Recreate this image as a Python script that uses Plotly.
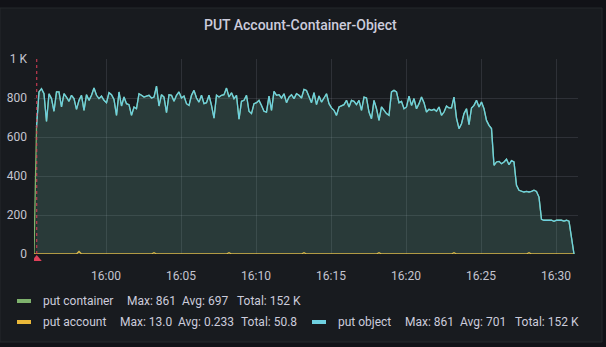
import pandas as pd
import plotly.graph_objects as go

# ---- data -------------------------------------------------------------
# requests/s sampled every 10 s
put_object = [
    651, 831, 848, 822, 680, 822, 797, 732, 831, 831, 754, 822, 805, 783, 814, 797,
    742, 788, 814, 737, 817, 788, 814, 851, 814, 797, 810, 788, 776, 827, 817, 793,
    711, 831, 759, 805, 771, 766, 711, 754, 745, 822, 814, 805,
    810, 814, 800, 805, 861, 759, 817, 805, 725, 817, 814, 783, 814, 831, 800, 810,
    771, 762, 814, 839, 800, 779, 814, 771, 776, 814, 762, 697, 814, 805, 814, 817,
    851, 805, 827, 797, 814, 691, 783, 788, 814, 732, 720, 771,
    776, 788, 762, 732, 728, 810, 737, 834, 814, 817, 800, 822, 776, 805, 817, 797,
    822, 814, 800, 844, 839, 805, 776, 827, 766, 810, 779, 800, 822, 771, 749, 737,
    711, 754, 762, 766, 788, 754, 788, 783, 766, 788, 737, 805,
    800, 728, 694, 788, 745, 685, 754, 737, 720, 711, 831, 839, 831, 776, 783, 745,
    754, 810, 762, 797, 745, 771, 805, 776, 728, 742, 737, 742, 732, 754, 711, 728,
    759, 749, 749, 805, 697, 643, 668, 720, 745, 663, 749, 762,
    788, 754, 779, 745, 685, 660, 643, 455, 472, 475, 463, 472, 486, 458, 479, 472,
    352, 327, 321, 318, 321, 318, 321, 327, 321, 292, 178, 173, 173, 173, 173, 168,
    173, 173, 173, 169, 173, 168, 90, 0,
]
# container series starts one sample earlier, at zero
put_container = [0] + put_object
# account creations: sample index -> value, zero elsewhere
account_bumps = {18: 13.0, 48: 6.3, 78: 6.3, 108: 6.3, 138: 6.3, 168: 6.3, 198: 6.3}

first_sample = "2021-06-01 15:55:12"
range_end = "2021-06-01 16:31:28"
annotation_time = "2021-06-01 15:55:23"

legend_rows = [
    ("put container", "#7eb26d", ["Max: 861", "Avg: 697", "Total: 152 K"]),
    ("put account", "#eab839", ["Max: 13.0", "Avg: 0.233", "Total: 50.8"]),
    ("put object", "#6ed0e0", ["Max: 861", "Avg: 701", "Total: 152 K"]),
]

y_tickvals = [0, 200, 400, 600, 800, 1000]
y_ticktext = ["0", "200", "400", "600", "800", "1 K"]

# ---- figure -----------------------------------------------------------
W, H = 606, 347
ML, MR, MT, MB = 34, 28, 59, 93
PW, PH = W - ML - MR, H - MT - MB
TXT_PAD = 3.5  # annotation boxes start a little left of their glyphs


def px(x):
    return (x - ML) / PW


def py(y):
    return (H - MB - y) / PH


times_container = pd.date_range(first_sample, periods=len(put_container), freq="10s")
times_object = times_container[1:]
put_account = [account_bumps.get(i, 0.0) for i in range(len(times_container))]

GREEN, YELLOW, CYAN = "#7eb26d", "#eab839", "#6ed0e0"
TEXT = "#ccccdc"
FONT = "Roboto, Inter, sans-serif"

fig = go.Figure()
fig.add_trace(go.Scatter(
    x=times_container, y=put_container, name="put container", mode="lines",
    line=dict(color=GREEN, width=1.3), fill="tozeroy",
    fillcolor="rgba(126,178,109,0.10)",
))
fig.add_trace(go.Scatter(
    x=times_container, y=put_account, name="put account", mode="lines",
    line=dict(color=YELLOW, width=1.3), fill="tozeroy",
    fillcolor="rgba(234,184,57,0.10)",
))
fig.add_trace(go.Scatter(
    x=times_object, y=put_object, name="put object", mode="lines",
    line=dict(color=CYAN, width=1.3), fill="tozeroy",
    fillcolor="rgba(110,208,224,0.10)",
))

shapes = [
    # panel card
    dict(type="rect", xref="paper", yref="paper", layer="below",
         x0=px(0), x1=px(602), y0=py(342), y1=py(8),
         fillcolor="#181b1f", line=dict(color="#25282d", width=1)),
    # annotation marker
    dict(type="line", xref="x", yref="paper", x0=annotation_time, x1=annotation_time,
         y0=0, y1=py(56), line=dict(color="#e0405a", width=1, dash="3px,3px")),
    dict(type="path", xref="x", yref="paper", xsizemode="pixel", ysizemode="pixel",
         xanchor=annotation_time, yanchor=0,
         path="M -5,-7 L 5,-7 L 0,-1 Z", fillcolor="#e0405a", line=dict(width=0)),
]

annotations = [
    dict(text="PUT Account-Container-Object", xref="paper", yref="paper",
         x=px(300), y=py(25), xanchor="center", yanchor="middle", showarrow=False,
         font=dict(family=FONT, size=14, color=TEXT, weight=500)),
]

# legend rows: (swatch x, label x, stat xs, row y)
legend_layout = [
    (17, 45, [129.5, 184, 239], 301),
    (17, 45, [122, 180.5, 243], 322),
    (312, 340.5, [407.5, 462, 517], 322),
]
for (label, color, stats), (sx, lx, stat_xs, ry) in zip(legend_rows, legend_layout):
    shapes.append(dict(type="rect", xref="paper", yref="paper",
                       x0=px(sx), x1=px(sx + 14), y0=py(ry + 2), y1=py(ry - 2),
                       fillcolor=color, line=dict(width=0)))
    for s, tx in [(label, lx)] + list(zip(stats, stat_xs)):
        annotations.append(dict(text=s, xref="paper", yref="paper",
                                x=px(tx - TXT_PAD), y=py(ry),
                                xanchor="left", yanchor="middle", showarrow=False,
                                borderpad=0, font=dict(family=FONT, size=12, color=TEXT)))

grid = "rgba(204,204,220,0.13)"
fig.update_layout(
    width=W, height=H,
    margin=dict(l=ML, r=MR, t=MT, b=MB),
    paper_bgcolor="#111217", plot_bgcolor="rgba(0,0,0,0)",
    showlegend=False, hovermode=False,
    shapes=shapes, annotations=annotations,
    font=dict(family=FONT, size=12, color=TEXT),
    xaxis=dict(
        type="date", range=[first_sample, range_end], automargin=False,
        tick0="2021-06-01 16:00:00", dtick=300000, tickformat="%H:%M",
        showgrid=True, gridcolor=grid, gridwidth=1, zeroline=False,
        showline=False, ticks="", ticklabelstandoff=13,
        tickfont=dict(family=FONT, size=12, color="#c4c4cf"),
    ),
    yaxis=dict(
        range=[0, 1000], tickvals=y_tickvals, ticktext=y_ticktext, automargin=False,
        showgrid=True, gridcolor=grid, gridwidth=1, zeroline=False,
        showline=False, ticks="", ticklabelstandoff=6,
        tickfont=dict(family=FONT, size=12, color="#c4c4cf"),
    ),
)

fig.write_html("out.html")
